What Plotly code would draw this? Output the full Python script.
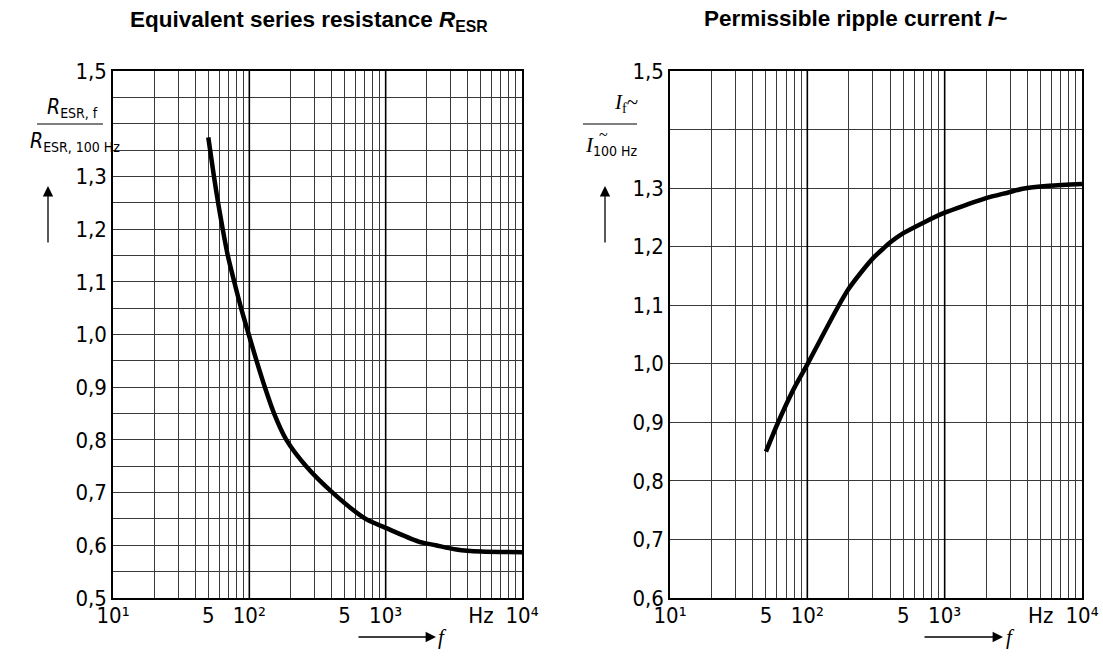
import plotly.graph_objects as go

# ---------------- data ----------------
esr_freq = [50, 55, 59, 63.8, 69.5, 77.5, 87, 99, 113, 130, 152, 187, 261, 408, 714, 1000, 1746, 2330, 3300, 5000, 10000]
esr_ratio = [1.374, 1.30, 1.25, 1.20, 1.15, 1.10, 1.05, 1.00, 0.95, 0.90, 0.85, 0.80, 0.75, 0.70, 0.65, 0.633, 0.607, 0.600, 0.592, 0.588, 0.587]

rip_freq = [50, 60, 70, 80, 100, 125, 167, 200, 250, 300, 362, 400, 500, 700, 1000, 1420, 2000, 2950, 3700, 5780, 10000]
rip_ratio = [0.85, 0.895, 0.930, 0.958, 0.999, 1.042, 1.097, 1.128, 1.158, 1.180, 1.198, 1.207, 1.223, 1.241, 1.258, 1.271, 1.283, 1.293, 1.299, 1.304, 1.307]

x_grid_vals = [m * 10 ** e for e in (1, 2, 3) for m in range(1, 10)] + [10000]
x_label_map = {10: "10¹", 50: "5", 100: "10²", 500: "5", 1000: "10³", 5000: "Hz", 10000: "10⁴"}
decades = [100, 1000]

esr_y_vals = [round(0.5 + 0.05 * i, 2) for i in range(21)]
esr_y_labels = {0.5: "0,5", 0.6: "0,6", 0.7: "0,7", 0.8: "0,8", 0.9: "0,9", 1.0: "1,0",
                1.1: "1,1", 1.2: "1,2", 1.3: "1,3", 1.5: "1,5"}
rip_y_vals = [round(0.6 + 0.1 * i, 2) for i in range(10)]
rip_y_labels = {0.6: "0,6", 0.7: "0,7", 0.8: "0,8", 0.9: "0,9", 1.0: "1,0",
                1.1: "1,1", 1.2: "1,2", 1.3: "1,3", 1.5: "1,5"}

W, H = 1103, 657
FONT = "Liberation Sans Narrow, DejaVu Sans Condensed, Arial Narrow, sans-serif"
GRID = "#3a3a3a"

def px(x):
    return x / W

def py(y):
    return 1 - y / H

fig = go.Figure()
fig.add_trace(go.Scatter(x=esr_freq, y=esr_ratio, mode="lines",
                         line=dict(color="black", width=4.5, shape="spline", smoothing=0.8),
                         xaxis="x", yaxis="y", showlegend=False, hoverinfo="skip"))
fig.add_trace(go.Scatter(x=rip_freq, y=rip_ratio, mode="lines",
                         line=dict(color="black", width=4.5, shape="spline", smoothing=0.8),
                         xaxis="x2", yaxis="y2", showlegend=False, hoverinfo="skip"))

xticktext = [x_label_map.get(v, "") for v in x_grid_vals]

def xaxis_cfg(domain, anchor):
    return dict(type="log", range=[1, 4], domain=domain, anchor=anchor, automargin=False,
                tickmode="array", tickvals=x_grid_vals, ticktext=xticktext,
                showgrid=True, gridcolor=GRID, gridwidth=1,
                showline=True, linecolor="black", linewidth=1.5, mirror=True,
                ticks="", ticklen=0, zeroline=False, ticklabelstandoff=-3,
                tickfont=dict(family=FONT, size=22, color="black"))

def yaxis_cfg(domain, anchor, rng, vals, labels):
    return dict(range=rng, domain=domain, anchor=anchor, automargin=False,
                tickmode="array", tickvals=vals, ticktext=[labels.get(v, "") for v in vals],
                showgrid=True, gridcolor=GRID, gridwidth=1,
                showline=True, linecolor="black", linewidth=1.5, mirror=True,
                ticks="", zeroline=False,
                tickfont=dict(family=FONT, size=22, color="black"))

ydom = [py(598), py(71)]
fig.update_layout(
    width=W, height=H, margin=dict(l=0, r=0, t=0, b=0, autoexpand=False),
    paper_bgcolor="white", plot_bgcolor="white",
    xaxis=xaxis_cfg([px(113), px(522)], "y"),
    yaxis=yaxis_cfg(ydom, "x", [0.5, 1.5], esr_y_vals, esr_y_labels),
    xaxis2=xaxis_cfg([px(670), px(1082)], "y2"),
    yaxis2=yaxis_cfg(ydom, "x2", [0.6, 1.5], rip_y_vals, rip_y_labels),
)

# decade lines (heavier)
for xa, ya in (("x", "y"), ("x2", "y2")):
    for d in decades:
        fig.add_shape(type="line", xref=xa, yref=ya + " domain", x0=d, x1=d, y0=0, y1=1,
                      line=dict(color="black", width=1.6), layer="above")

ann = []

def note(text, x, y, font):
    ann.append(dict(text=text, x=px(x), y=py(y), xref="paper", yref="paper", showarrow=False,
                    xanchor="center", yanchor="middle", font=font))

TFONT = dict(family="Liberation Sans, Arial, sans-serif", size=22.5, color="black")
note("<b>Equivalent series resistance <i>R</i><sub>ESR</sub></b>", 309, 21, TFONT)
note("<b>Permissible ripple current <i>I</i>~</b>", 855, 19, TFONT)

LF = dict(family=FONT, size=21, color="black")
SUB = "<sub><span style='font-size:14px'>%s</span></sub>"
# left y title (fraction)
note("<i>R</i>" + SUB % "ESR, f", 72, 108, LF)
note("<i>R</i>" + SUB % "ESR, 100 Hz", 75, 142, LF)
# right y title (fraction)
SF = dict(family="Liberation Serif, serif", size=21, color="black")
note("<i>I</i>" + SUB % "f" + "~", 626, 103, SF)
note("<i>I</i><sub><span style='font-size:14px;font-family:Liberation Sans Narrow, DejaVu Sans Condensed, sans-serif'>100 Hz</span></sub>",
     611, 146, SF)
note("~", 603, 135, dict(family="Liberation Serif, serif", size=16, color="black"))

# up arrows
for ax_x in (48, 605):
    ann.append(dict(text="", x=px(ax_x), y=py(186), xref="paper", yref="paper",
                    showarrow=True, ax=0, ay=58, arrowhead=2, arrowsize=1.6, arrowwidth=1.3,
                    arrowcolor="black"))
# right arrows for f
for (x0, x1, fx) in ((357, 436, 442), (923, 1003, 1010)):
    ann.append(dict(text="", x=px(x1), y=py(637), xref="paper", yref="paper",
                    showarrow=True, ax=-(x1 - x0), ay=0, arrowhead=2, arrowsize=1.6, arrowwidth=1.3,
                    arrowcolor="black"))
    note("<i>f</i>", fx, 637, dict(family="Liberation Serif, serif", size=21, color="black"))

fig.update_layout(annotations=ann)

# fraction bars
fig.add_shape(type="line", xref="paper", yref="paper", x0=px(37), x1=px(103), y0=py(124), y1=py(124),
              line=dict(color="black", width=1))
fig.add_shape(type="line", xref="paper", yref="paper", x0=px(583), x1=px(637), y0=py(124), y1=py(124),
              line=dict(color="black", width=1))

fig.write_html("out.html", config={"displayModeBar": False},
               post_script="document.body.style.margin='0px';document.body.style.overflow='hidden';")
